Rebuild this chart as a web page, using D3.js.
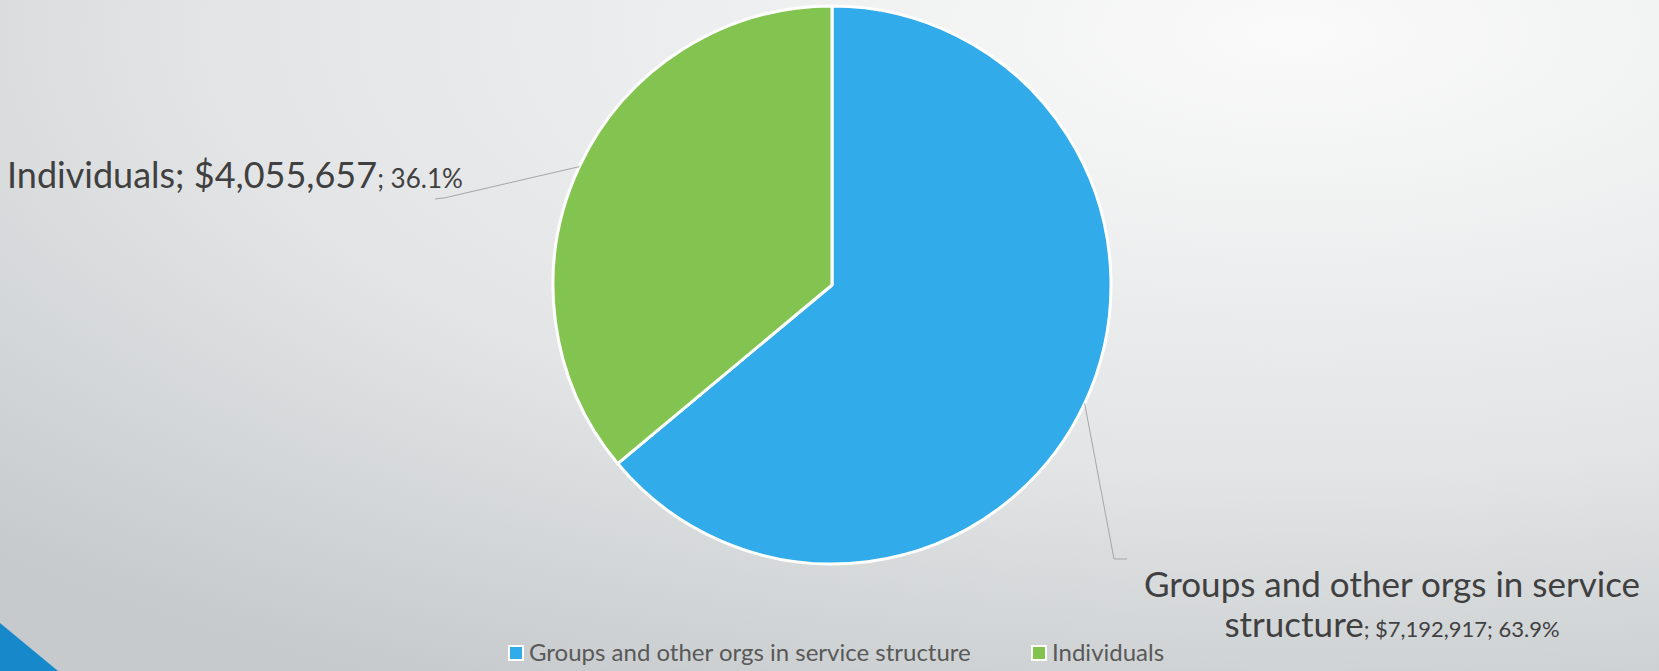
<!DOCTYPE html>
<html>
<head>
<script src="https://cdn.jsdelivr.net/npm/d3@7"></script>
<style>
  html, body { margin: 0; padding: 0; }
  body { width: 1659px; height: 671px; overflow: hidden; font-family: Lato, "Open Sans", sans-serif; }
</style>
</head>
<body>
<svg id="chart" width="1659" height="671"></svg>
<script>
  const categories = ["Groups and other orgs in service structure", "Individuals"];
  const values = [7192917, 4055657];
  const colors = ["#31abea", "#83c451"];

  const svg = d3.select("#chart");
  const W = 1659, H = 671;

  // background
  const defs = svg.append("defs");
  const bg = defs.append("radialGradient").attr("id", "bg")
      .attr("cx", "0.78").attr("cy", "0.05").attr("r", "1.1");
  bg.append("stop").attr("offset", "0").attr("stop-color", "#fafafa");
  bg.append("stop").attr("offset", "0.6").attr("stop-color", "#e2e4e5");
  bg.append("stop").attr("offset", "1").attr("stop-color", "#c6cacc");
  svg.append("rect").attr("width", W).attr("height", H).attr("fill", "url(#bg)");
  svg.append("path").attr("d", "M0,623 L58,671 L0,671 Z").attr("fill", "#1788ca");

  const cx = 832, cy = 285, r = 279;
  const total = d3.sum(values);
  const data = categories.map((c, i) => ({ name: c, value: values[i], color: colors[i] }));

  const pie = d3.pie().value(d => d.value).sort(null);
  const arc = d3.arc().innerRadius(0).outerRadius(r);
  const arcs = pie(data);

  const g = svg.append("g").attr("transform", `translate(${cx},${cy})`);
  g.selectAll("path.slice").data(arcs).enter().append("path")
      .attr("class", "slice")
      .attr("d", arc)
      .attr("fill", d => d.data.color)
      .attr("stroke", "#fff")
      .attr("stroke-width", 3)
      .attr("stroke-linejoin", "round");

  const fmt = d3.format("$,");
  const pct = v => (v / total * 100).toFixed(1) + "%";

  // leader lines
  const edge = d => {
    const a = (d.startAngle + d.endAngle) / 2;
    return [cx + r * Math.sin(a), cy - r * Math.cos(a)];
  };
  const ends = [[[1114, 559], [1127, 559]], [[444, 198], [435, 199]]];
  arcs.forEach((d, i) => {
    const p = edge(d);
    svg.append("polyline")
        .attr("points", [p, ends[i][0], ends[i][1]].map(q => q.join(",")).join(" "))
        .attr("fill", "none").attr("stroke", "#a6a6a6").attr("stroke-width", 1);
  });

  const txtColor = "#404040";
  // left label (Individuals)
  const t1 = svg.append("text").attr("x", 7).attr("y", 188).attr("fill", txtColor)
      .style("font-size", "36px");
  t1.append("tspan").text(data[1].name + "; " + fmt(data[1].value));
  t1.append("tspan").style("font-size", "26px").text("; " + pct(data[1].value));

  // right label (Groups), wrapped on two lines
  const words = data[0].name.split(" ");
  svg.append("text").attr("x", 1392).attr("y", 597).attr("text-anchor", "middle")
      .attr("fill", txtColor).style("font-size", "35px")
      .text(words.slice(0, -1).join(" "));
  const t2 = svg.append("text").attr("x", 1392).attr("y", 637).attr("text-anchor", "middle")
      .attr("fill", txtColor).style("font-size", "35px");
  t2.append("tspan").text(words[words.length - 1]);
  t2.append("tspan").style("font-size", "22px").text("; " + fmt(data[0].value) + "; " + pct(data[0].value));

  // legend
  const legX = [509, 1032];
  const leg = svg.selectAll("g.leg").data(data).enter().append("g")
      .attr("class", "leg")
      .attr("transform", (d, i) => `translate(${legX[i]},646)`);
  leg.append("rect").attr("x", 0).attr("y", 0).attr("width", 14).attr("height", 14)
      .attr("fill", d => d.color).attr("stroke", "#fff").attr("stroke-width", 2);
  leg.append("text").attr("x", 20).attr("y", 15).attr("fill", "#595959")
      .style("font-size", "24px").text(d => d.name);
</script>
</body>
</html>
